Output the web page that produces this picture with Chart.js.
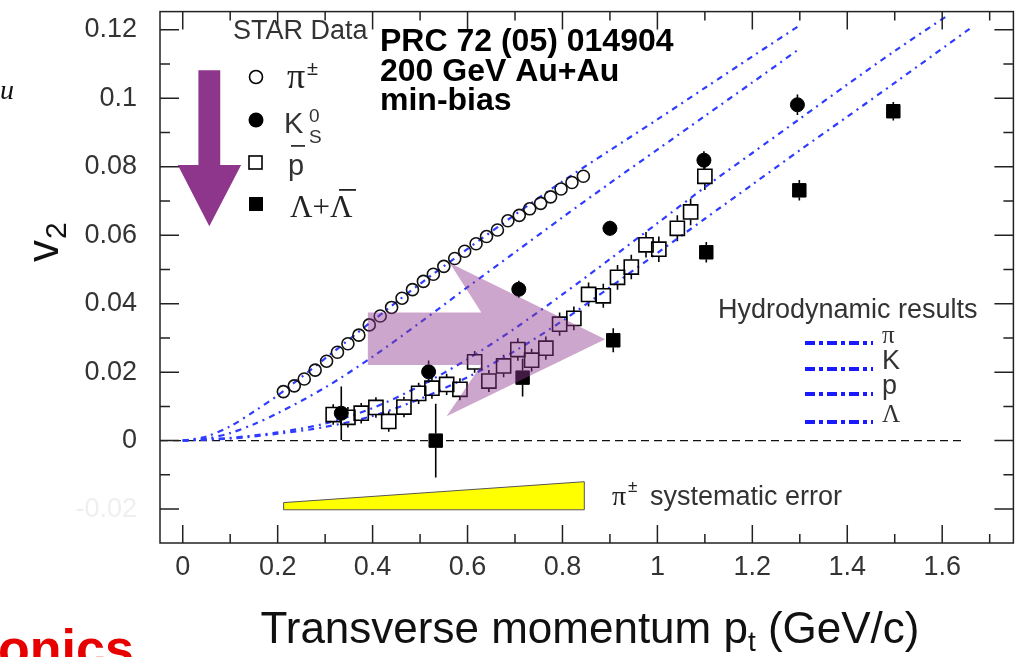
<!DOCTYPE html>
<html>
<head>
<meta charset="utf-8">
<script src="https://cdn.jsdelivr.net/npm/chart.js@4.4.0/dist/chart.umd.min.js"></script>
<style>
  html, body { margin: 0; padding: 0; background: #fff; }
  #wrap { width: 1025px; height: 657px; }
</style>
</head>
<body>
<div id="wrap"><canvas id="v2chart" width="1025" height="657"></canvas></div>
<script>
// STAR min-bias v2(pt), Au+Au 200 GeV

// pi+- (open circles)
const piPt = [0.212, 0.235, 0.256, 0.279, 0.303, 0.326, 0.348, 0.371, 0.393, 0.416, 0.440, 0.462, 0.484, 0.507, 0.528,
              0.550, 0.573, 0.594, 0.618, 0.640, 0.663, 0.685, 0.709, 0.731, 0.754, 0.775, 0.797, 0.820, 0.844];
const piV2 = [0.0143, 0.0160, 0.0180, 0.0206, 0.0232, 0.0258, 0.0283, 0.0308, 0.0338, 0.0364, 0.0389, 0.0416, 0.0441, 0.0465, 0.0486,
              0.0509, 0.0532, 0.0553, 0.0575, 0.0596, 0.0615, 0.0642, 0.0658, 0.0677, 0.0693, 0.0712, 0.0735, 0.0754, 0.0772];

// K0S (filled circles)
const kPt  = [0.334, 0.518, 0.708, 0.900, 1.098, 1.295];
const kV2  = [0.0080, 0.0201, 0.0442, 0.0620, 0.0819, 0.0981];
const kErr = [0.0078, 0.0033, 0.0025, 0.0022, 0.0026, 0.0030];

// anti-proton (open squares)
const pbarPt  = [0.317, 0.348, 0.376, 0.407, 0.434, 0.466, 0.497, 0.525, 0.556, 0.584, 0.615, 0.645, 0.676, 0.706,
                 0.735, 0.765, 0.794, 0.824, 0.855, 0.886, 0.916, 0.945, 0.976, 1.003, 1.042, 1.070, 1.100];
const pbarV2  = [0.0076, 0.0068, 0.0080, 0.0097, 0.0056, 0.0098, 0.0138, 0.0153, 0.0164, 0.0150, 0.0230, 0.0174, 0.0218, 0.0266,
                 0.0235, 0.0270, 0.0340, 0.0357, 0.0427, 0.0423, 0.0477, 0.0507, 0.0572, 0.0559, 0.0620, 0.0668, 0.0772];
const pbarErr = [0.0030, 0.0030, 0.0030, 0.0030, 0.0030, 0.0030, 0.0031, 0.0031, 0.0031, 0.0032, 0.0032, 0.0032, 0.0033, 0.0033,
                 0.0033, 0.0034, 0.0034, 0.0035, 0.0035, 0.0035, 0.0036, 0.0036, 0.0037, 0.0037, 0.0038, 0.0039, 0.0040];

// Lambda + anti-Lambda (filled squares)
const lamPt  = [0.533, 0.716, 0.907, 1.103, 1.299, 1.497];
const lamV2  = [0.0000, 0.0184, 0.0293, 0.0550, 0.0731, 0.0962];
const lamErr = [0.0108, 0.0055, 0.0035, 0.0030, 0.0030, 0.0027];

// hydrodynamic curves
const piHydroPt = [0, 0.05, 0.1, 0.15, 0.2, 0.3, 0.4, 0.5, 0.6, 0.7, 0.8, 0.9, 1.0, 1.1, 1.2, 1.3];
const piHydroV2 = [0, 0.0012, 0.0042, 0.0085, 0.0132, 0.0240, 0.0350, 0.0458, 0.0560, 0.0660, 0.0757, 0.0848, 0.0938, 0.1030, 0.1122, 0.1213];
const kHydroPt  = [0, 0.05, 0.1, 0.15, 0.2, 0.3, 0.4, 0.5, 0.6, 0.7, 0.8, 0.9, 1.0, 1.1, 1.2, 1.3];
const kHydroV2  = [0, 0.0006, 0.0022, 0.0048, 0.0080, 0.0155, 0.0245, 0.0345, 0.0448, 0.0550, 0.0652, 0.0752, 0.0850, 0.0948, 0.1046, 0.1145];
const pHydroPt  = [0, 0.1, 0.2, 0.3, 0.4, 0.5, 0.6, 0.7, 0.8, 0.9, 1.0, 1.1, 1.2, 1.3, 1.4, 1.5, 1.615];
const pHydroV2  = [0, 0.0008, 0.0024, 0.0050, 0.0095, 0.0160, 0.0238, 0.0328, 0.0427, 0.0530, 0.0635, 0.0740, 0.0840, 0.0940, 0.1040, 0.1138, 0.1245];
const lamHydroPt = [0, 0.1, 0.2, 0.3, 0.4, 0.5, 0.6, 0.7, 0.8, 0.9, 1.0, 1.1, 1.2, 1.3, 1.4, 1.5, 1.66];
const lamHydroV2 = [0, 0.0006, 0.0020, 0.0040, 0.0072, 0.0122, 0.0185, 0.0262, 0.0350, 0.0448, 0.0548, 0.0648, 0.0748, 0.0848, 0.0946, 0.1045, 0.1205];

// pi+- systematic error band
const sysPt   = [0.2125, 0.846];
const sysLow  = [-0.0202, -0.0202];
const sysHigh = [-0.0181, -0.0120];

// axis ranges and tick steps
const xMin = -0.0479, xMax = 1.750;
const yMin = -0.0299, yMax = 0.1253;
const xTickStep = 0.2, yTickStep = 0.02;

const pts = (xs, ys) => xs.map((x, i) => ({x: x, y: ys[i]}));

const HYDRO_BLUE = '#2f3cff';
const GRAY_TXT = '#333333';
const hydroDash = [6, 5, 2, 5];

function hydroSet(label, xs, ys) {
  return {
    label: label, data: pts(xs, ys), showLine: true, pointRadius: 0,
    borderColor: HYDRO_BLUE, borderWidth: 2.2, borderDash: hydroDash, fill: false, tension: 0.3
  };
}

function txt(ctx, s, x, y, font, color, align) {
  ctx.font = font;
  ctx.fillStyle = color;
  ctx.textAlign = align || 'left';
  ctx.textBaseline = 'alphabetic';
  ctx.fillText(s, x, y);
}

// keep the plot box fixed: no extra room for edge labels
function noEdgePadding(s) {
  s.paddingTop = 0; s.paddingBottom = 0; s.paddingLeft = 0; s.paddingRight = 0;
}

const decor = {
  id: 'decor',
  beforeDatasetsDraw(chart) {
    const ctx = chart.ctx, X = v => chart.scales.x.getPixelForValue(v), Y = v => chart.scales.y.getPixelForValue(v);
    ctx.save();
    // systematic error wedge
    ctx.beginPath();
    ctx.moveTo(X(sysPt[0]), Y(sysLow[0]));
    ctx.lineTo(X(sysPt[1]), Y(sysLow[1]));
    ctx.lineTo(X(sysPt[1]), Y(sysHigh[1]));
    ctx.lineTo(X(sysPt[0]), Y(sysHigh[0]));
    ctx.closePath();
    ctx.fillStyle = '#ffff00';
    ctx.fill();
    ctx.lineWidth = 1;
    ctx.strokeStyle = '#555';
    ctx.stroke();

    // v2 = 0 reference
    ctx.beginPath();
    ctx.setLineDash([8, 5]);
    ctx.moveTo(X(xMin), Y(0));
    ctx.lineTo(X(1.65), Y(0));
    ctx.lineWidth = 1.3;
    ctx.strokeStyle = '#111';
    ctx.stroke();
    ctx.setLineDash([]);

    // error bars, drawn outside the marker only
    chart.data.datasets.forEach(ds => {
      if (!ds.errs) return;
      const half = ds.markHalf || 0;
      ctx.strokeStyle = '#000';
      ctx.lineWidth = 1.6;
      ds.data.forEach((p, i) => {
        const px = X(p.x), py = Y(p.y);
        const up = Y(p.y + ds.errs[i]), dn = Y(p.y - ds.errs[i]);
        ctx.beginPath();
        if (py - up > half) { ctx.moveTo(px, py - half); ctx.lineTo(px, up); }
        if (dn - py > half) { ctx.moveTo(px, py + half); ctx.lineTo(px, dn); }
        ctx.stroke();
      });
    });
    ctx.restore();
  },
  afterDatasetsDraw(chart) {
    const ctx = chart.ctx, a = chart.chartArea;
    const X = v => chart.scales.x.getPixelForValue(v), Y = v => chart.scales.y.getPixelForValue(v);
    ctx.save();

    // translucent pink arrow
    ctx.beginPath();
    [[0.390, 0.0374], [0.629, 0.0374], [0.5625, 0.0519], [0.890, 0.0296],
     [0.556, 0.0071], [0.629, 0.0221], [0.390, 0.0221]].forEach((p, i) => {
      if (i === 0) ctx.moveTo(X(p[0]), Y(p[1])); else ctx.lineTo(X(p[0]), Y(p[1]));
    });
    ctx.closePath();
    ctx.fillStyle = 'rgba(142, 57, 142, 0.45)';
    ctx.fill();

    // purple down arrow
    ctx.beginPath();
    [[0.033, 0.1082], [0.079, 0.1082], [0.079, 0.0805], [0.123, 0.0805],
     [0.056, 0.0626], [-0.0104, 0.0805], [0.033, 0.0805]].forEach((p, i) => {
      if (i === 0) ctx.moveTo(X(p[0]), Y(p[1])); else ctx.lineTo(X(p[0]), Y(p[1]));
    });
    ctx.closePath();
    ctx.fillStyle = '#8e358c';
    ctx.fill();

    // frame
    ctx.strokeStyle = '#222';
    ctx.lineWidth = 1.5;
    ctx.strokeRect(a.left, a.top, a.right - a.left, a.bottom - a.top);

    // inward ticks on all four sides
    ctx.beginPath();
    for (let i = 0; i <= 17; i++) {
      const px = X(i * 0.1), len = i % 2 === 0 ? 18 : 9;
      ctx.moveTo(px, a.bottom); ctx.lineTo(px, a.bottom - len);
      ctx.moveTo(px, a.top); ctx.lineTo(px, a.top + len);
    }
    for (let j = -2; j <= 12; j++) {
      const py = Y(j * 0.01), len = j % 2 === 0 ? 19 : 10;
      ctx.moveTo(a.left, py); ctx.lineTo(a.left + len, py);
      ctx.moveTo(a.right, py); ctx.lineTo(a.right - len, py);
    }
    ctx.stroke();

    // STAR data legend
    txt(ctx, 'STAR Data', 233, 39, '27px "Liberation Sans"', GRAY_TXT);
    ctx.lineWidth = 1.6; ctx.strokeStyle = '#000'; ctx.fillStyle = '#000';
    ctx.beginPath(); ctx.arc(256, 77, 6.5, 0, Math.PI * 2); ctx.stroke();
    ctx.beginPath(); ctx.arc(256, 120, 7.5, 0, Math.PI * 2); ctx.fill();
    ctx.strokeRect(249, 156, 13, 13);
    ctx.fillRect(249, 197, 14, 14);
    txt(ctx, 'π', 287, 88, '36px "Liberation Serif"', '#222');
    txt(ctx, '±', 307, 75, '20px "Liberation Sans"', '#222');
    txt(ctx, 'K', 284, 133, '29px "Liberation Sans"', GRAY_TXT);
    txt(ctx, '0', 309, 122, '19px "Liberation Sans"', GRAY_TXT);
    txt(ctx, 'S', 309, 143, '19px "Liberation Sans"', GRAY_TXT);
    txt(ctx, 'p', 288, 175, '29px "Liberation Sans"', GRAY_TXT);
    ctx.fillStyle = GRAY_TXT; ctx.fillRect(291, 145, 14, 1.8);
    txt(ctx, 'Λ+Λ', 290, 217, '31px "Liberation Serif"', '#222');
    ctx.fillStyle = '#222'; ctx.fillRect(339, 189, 17, 1.8);

    // reference label
    txt(ctx, 'PRC 72 (05) 014904', 380, 51, 'bold 32px "Liberation Sans"', '#000');
    txt(ctx, '200 GeV Au+Au', 380, 81, 'bold 32px "Liberation Sans"', '#000');
    txt(ctx, 'min-bias', 380, 110, 'bold 32px "Liberation Sans"', '#000');

    // hydro legend
    txt(ctx, 'Hydrodynamic results', 718, 318, '27px "Liberation Sans"', GRAY_TXT);
    const hydroRows = [['π', 343, 'serif'], ['K', 369, 'sans'], ['p', 394, 'sans'], ['Λ', 422, 'serif']];
    hydroRows.forEach(r => {
      ctx.beginPath();
      ctx.setLineDash([10, 4, 4, 4]);
      ctx.moveTo(805, r[1]); ctx.lineTo(873, r[1]);
      ctx.strokeStyle = '#1a1aff'; ctx.lineWidth = 4; ctx.stroke();
      ctx.setLineDash([]);
      const f = r[2] === 'serif' ? '25px "Liberation Serif"' : '27px "Liberation Sans"';
      txt(ctx, r[0], 882, r[1], f, GRAY_TXT);
    });

    // systematic error note
    txt(ctx, 'π', 612, 505, '28px "Liberation Serif"', '#222');
    txt(ctx, '±', 628, 492, '17px "Liberation Sans"', '#222');
    txt(ctx, 'systematic error', 650, 505, '27px "Liberation Sans"', GRAY_TXT);
    ctx.restore();
  },
  afterDraw(chart) {
    const ctx = chart.ctx;
    ctx.save();
    // x axis title with subscript t
    const f1 = '44px "Liberation Sans"', f2 = '28px "Liberation Sans"';
    const s1 = 'Transverse momentum p', s2 = 't', s3 = ' (GeV/c)';
    ctx.font = f1; const w1 = ctx.measureText(s1).width, w3 = ctx.measureText(s3).width;
    ctx.font = f2; const w2 = ctx.measureText(s2).width;
    const x0 = 590 - (w1 + w2 + w3) / 2;
    txt(ctx, s1, x0, 643, f1, '#111');
    txt(ctx, s2, x0 + w1, 651, f2, '#111');
    txt(ctx, s3, x0 + w1 + w2, 643, f1, '#111');

    // y axis title v2, rotated
    ctx.translate(58, 262);
    ctx.rotate(-Math.PI / 2);
    txt(ctx, 'v', 0, 0, '44px "Liberation Sans"', '#111');
    txt(ctx, '2', 23, 8, '30px "Liberation Sans"', '#111');
    ctx.restore();

    // slide fragments around the figure
    txt(ctx, 'u', 0, 99, 'italic 28px "Liberation Serif"', '#111');
    txt(ctx, 'onics', -2, 666, 'bold 52px "Liberation Sans"', '#e60000');
  }
};

const ctx = document.getElementById('v2chart').getContext('2d');
const chart = new Chart(ctx, {
  type: 'scatter',
  data: {
    datasets: [
      { label: 'Λ+Λ̄', data: pts(lamPt, lamV2), errs: lamErr, markHalf: 7, pointStyle: 'rect', pointRadius: 9.5,
        backgroundColor: '#000', borderColor: '#000', borderWidth: 1 },
      { label: 'K0S', data: pts(kPt, kV2), errs: kErr, markHalf: 7, pointStyle: 'circle', pointRadius: 7,
        backgroundColor: '#000', borderColor: '#000', borderWidth: 1 },
      { label: 'p̄', data: pts(pbarPt, pbarV2), errs: pbarErr, markHalf: 7.5, pointStyle: 'rect', pointRadius: 10,
        backgroundColor: 'rgba(0,0,0,0)', borderColor: '#000', borderWidth: 1.6 },
      { label: 'π±', data: pts(piPt, piV2), pointStyle: 'circle', pointRadius: 6,
        backgroundColor: 'rgba(0,0,0,0)', borderColor: '#111', borderWidth: 1.6 },
      hydroSet('hydro π', piHydroPt, piHydroV2),
      hydroSet('hydro K', kHydroPt, kHydroV2),
      hydroSet('hydro p', pHydroPt, pHydroV2),
      hydroSet('hydro Λ', lamHydroPt, lamHydroV2)
    ]
  },
  options: {
    responsive: false,
    animation: false,
    devicePixelRatio: 1,
    layout: { padding: { top: 6, right: 2, left: 0, bottom: 0 } },
    plugins: { legend: { display: false }, tooltip: { enabled: false } },
    scales: {
      x: {
        type: 'linear', min: xMin, max: xMax,
        afterFit: s => { s.height = 114; noEdgePadding(s); },
        grid: { display: false, drawTicks: false },
        border: { display: false },
        ticks: {
          stepSize: xTickStep, includeBounds: false, padding: 8, maxRotation: 0,
          color: GRAY_TXT, font: { family: 'Liberation Sans', size: 27 },
          callback: v => String(+v.toFixed(2))
        }
      },
      y: {
        type: 'linear', min: yMin, max: yMax,
        afterFit: s => { s.width = 160; noEdgePadding(s); },
        grid: { display: false, drawTicks: false },
        border: { display: false },
        ticks: {
          stepSize: yTickStep, includeBounds: false, padding: 23,
          color: c => c.tick && c.tick.value < -0.001 ? '#efefef' : GRAY_TXT,
          font: { family: 'Liberation Sans', size: 27 },
          callback: v => String(+v.toFixed(2))
        }
      }
    }
  },
  plugins: [decor]
});
</script>
</body>
</html>
